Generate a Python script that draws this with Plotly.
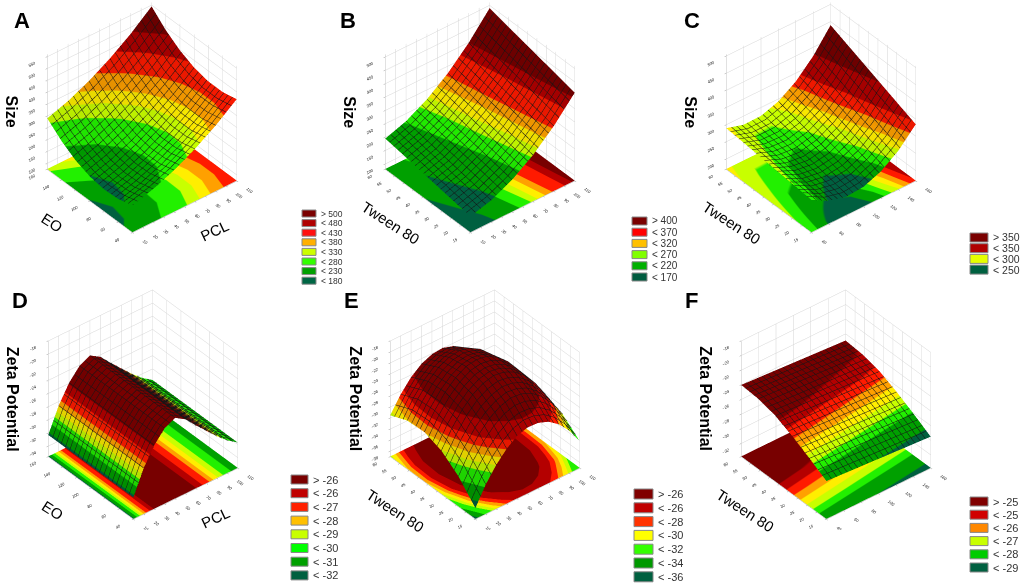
import plotly.graph_objects as go

# ---------------- data ----------------
pcl6 = [10, 30, 50, 70, 90, 110]
pcl11 = [10, 20, 30, 40, 50, 60, 70, 80, 90, 100, 110]
eo7 = [40, 60, 80, 100, 120, 140, 160]
eo3 = [40, 100, 160]
eo4 = [40, 80, 120, 160]
tween4 = [15, 30, 45, 60]
tween6 = [15, 24, 33, 42, 51, 60]

# A: Size over PCL (columns) x EO (rows)
size_a = [
    [190, 215, 251, 297, 353, 420],
    [172, 198, 234, 281, 338, 406],
    [168, 195, 232, 280, 338, 406],
    [178, 205, 243, 292, 351, 420],
    [201, 230, 269, 318, 378, 448],
    [239, 268, 308, 358, 419, 489],
    [290, 320, 361, 412, 473, 545],
]
# B: Size over PCL (columns) x Tween 80 (rows)
size_b = [
    [140, 162, 200, 254, 324, 410],
    [158, 182, 222, 277, 349, 437],
    [177, 202, 243, 301, 374, 463],
    [195, 222, 265, 324, 399, 490],
]
# C: Size over EO (columns) x Tween 80 (rows)
size_c = [
    [265, 237, 224, 228, 248, 283, 335],
    [270, 244, 235, 241, 263, 302, 356],
    [275, 252, 245, 254, 279, 320, 377],
    [280, 260, 255, 267, 295, 338, 398],
    [285, 267, 266, 280, 310, 357, 419],
    [290, 275, 276, 293, 326, 375, 440],
]
# D: Zeta potential over PCL (columns) x EO (rows)
zeta_d = [
    [-32.3, -28.6, -25.9, -24.1, -23.3, -24.3, -26.0, -27.6, -29.2, -30.6, -31.7],
    [-32.3, -28.6, -25.9, -24.1, -23.3, -24.3, -26.0, -27.6, -29.2, -30.6, -31.7],
    [-32.3, -28.6, -25.9, -24.1, -23.3, -24.3, -26.0, -27.6, -29.2, -30.6, -31.7],
]
# E: Zeta potential over PCL (columns) x Tween 80 (rows)
zeta_e = [
    [-37.0, -33.6, -31.0, -29.0, -27.6, -27.0, -27.1, -27.8, -29.2, -31.3, -34.1],
    [-33.5, -30.2, -27.6, -25.7, -24.5, -23.9, -24.1, -24.9, -26.4, -28.6, -31.5],
    [-31.1, -28.0, -25.5, -23.7, -22.6, -22.1, -22.4, -23.3, -24.9, -27.2, -30.2],
    [-30.0, -27.0, -24.6, -22.9, -21.8, -21.5, -21.8, -22.9, -24.6, -27.0, -30.0],
    [-30.2, -27.2, -24.9, -23.3, -22.4, -22.1, -22.6, -23.7, -25.5, -28.0, -31.1],
    [-31.5, -28.6, -26.4, -24.9, -24.1, -23.9, -24.5, -25.7, -27.6, -30.2, -33.5],
]
# F: Zeta potential over EO (columns) x Tween 80 (rows)
zeta_f = [
    [-28.6, -28.9, -29.2, -29.5],
    [-27.2, -27.5, -27.8, -28.1],
    [-25.9, -26.2, -26.5, -26.8],
    [-24.8, -25.1, -25.4, -25.7],
    [-24.2, -24.5, -24.8, -25.1],
    [-24.0, -24.3, -24.6, -24.9],
]

# colour band limits for the surfaces (9 colours, low -> high)
PALETTE = ["#006040", "#00a000", "#22f000", "#c8ff00", "#ffee00",
           "#ffa000", "#ff1a00", "#b40000", "#780000"]
cuts_a = [180, 230, 280, 310, 340, 380, 430, 480]
cuts_b = [170, 220, 250, 270, 295, 320, 370, 400]
cuts_c = [238, 255, 270, 285, 300, 318, 340, 380]
cuts_d = [-32, -31, -30, -29.3, -28.6, -28, -27, -26]
cuts_e = [-36, -34, -32, -31, -30, -29, -28, -26]
cuts_f = [-29, -28, -27.5, -27, -26.5, -26, -25.5, -25]

# legends as printed
leg_a = ["> 500", "< 480", "< 430", "< 380", "< 330", "< 280", "< 230", "< 180"]
legc_a = ["#7a0000", "#b00000", "#ff1010", "#ffb000", "#ccff00", "#33ff00", "#00a000", "#006644"]
leg_b = ["> 400", "< 370", "< 320", "< 270", "< 220", "< 170"]
legc_b = ["#7a0000", "#ff0000", "#ffc000", "#80ff00", "#00b000", "#005c40"]
leg_c = ["> 350", "< 350", "< 300", "< 250"]
legc_c = ["#7a0000", "#b00000", "#e6ff00", "#006040"]
leg_d = ["> -26", "< -26", "< -27", "< -28", "< -29", "< -30", "< -31", "< -32"]
legc_d = ["#7a0000", "#c00000", "#ff2000", "#ffc000", "#c8ff00", "#00ff00", "#00a000", "#006040"]
leg_e = ["> -26", "< -26", "< -28", "< -30", "< -32", "< -34", "< -36"]
legc_e = ["#800000", "#c00000", "#ff3300", "#ffff00", "#33ff00", "#009900", "#006040"]
leg_f = ["> -25", "< -25", "< -26", "< -27", "< -28", "< -29"]
legc_f = ["#800000", "#d00000", "#ff8800", "#c8ff00", "#00cc00", "#006040"]

W, H = 1024, 587


def banded(cuts, lo, hi):
    edges = [lo] + cuts + [hi]
    scale = []
    for i, col in enumerate(PALETTE):
        a = min(max((edges[i] - lo) / (hi - lo), 0), 1)
        b = min(max((edges[i + 1] - lo) / (hi - lo), 0), 1)
        scale.append([a, col])
        scale.append([b, col])
    return scale


panels = [
    dict(scene="scene", letter="A", x=pcl6, y=eo7, z=size_a, cuts=cuts_a,
         xr=[10, 110], yr=[40, 160], zr=[75, 560], xd=10, yd=20, zd=50,
         xs=5, ys=6, xt="PCL", yt="EO", zt="Size", cz=-0.05,
         dom=([0.0165, 0.261], [0.583, 1.0]), lx=302, ly=210, bw=14, bh=7, st=9.6, fs=8.5,
         leg=leg_a, legc=legc_a, lpos=(22, 20)),
    dict(scene="scene2", letter="B", x=pcl6, y=tween4, z=size_b, cuts=cuts_b,
         xr=[10, 110], yr=[15, 60], zr=[80, 510], xd=10, yd=5, zd=50,
         xs=5, ys=2.25, xt="PCL", yt="Tween 80", zt="Size", cz=-0.05,
         dom=([0.347, 0.591], [0.583, 1.0]), lx=632, ly=217, bw=15, bh=8, st=11.2, fs=10,
         leg=leg_b, legc=legc_b, lpos=(348, 20)),
    dict(scene="scene3", letter="C", x=eo7, y=tween6, z=size_c, cuts=cuts_c,
         xr=[40, 160], yr=[15, 60], zr=[170, 505], xd=20, yd=5, zd=50,
         xs=6, ys=2.25, xt="EO", yt="Tween 80", zt="Size", cz=-0.05,
         dom=([0.680, 0.924], [0.583, 1.0]), lx=970, ly=233, bw=18, bh=9, st=10.7, fs=10.5,
         leg=leg_c, legc=legc_c, lpos=(692, 20)),
    dict(scene="scene4", letter="D", x=pcl11, y=eo3, z=zeta_d, cuts=cuts_d,
         xr=[10, 110], yr=[40, 160], zr=[-35.6, -18], xd=10, yd=20, zd=2,
         xs=5, ys=6, xt="PCL", yt="EO", zt="Zeta Potential", cz=-0.03,
         dom=([0.0176, 0.262], [0.097, 0.514]), lx=291, ly=475, bw=17, bh=9, st=13.7, fs=11,
         leg=leg_d, legc=legc_d, lpos=(20, 300)),
    dict(scene="scene5", letter="E", x=pcl11, y=tween6, z=zeta_e, cuts=cuts_e,
         xr=[10, 110], yr=[15, 60], zr=[-39, -18], xd=10, yd=5, zd=2,
         xs=5, ys=2.25, xt="PCL", yt="Tween 80", zt="Zeta Potential", cz=-0.03,
         dom=([0.352, 0.596], [0.097, 0.514]), lx=634, ly=489, bw=19, bh=10, st=13.8, fs=11,
         leg=leg_e, legc=legc_e, lpos=(351, 300)),
    dict(scene="scene6", letter="F", x=eo4, y=tween6, z=zeta_f, cuts=cuts_f,
         xr=[40, 160], yr=[15, 60], zr=[-33.8, -18], xd=20, yd=5, zd=2,
         xs=6, ys=2.25, xt="EO", yt="Tween 80", zt="Zeta Potential", cz=-0.03,
         dom=([0.694, 0.938], [0.097, 0.514]), lx=970, ly=497, bw=18, bh=9, st=13.2, fs=11,
         leg=leg_f, legc=legc_f, lpos=(691, 300)),
]

fig = go.Figure()
shapes = []
annotations = []


def axis(rng, dtick):
    return dict(title=dict(text=""), range=rng, tick0=0, dtick=dtick,
                tickfont=dict(size=7, color="#222222", family="Liberation Sans", style="italic"),
                showgrid=True, gridcolor="#d4d4d4", gridwidth=1, showbackground=False,
                zeroline=False, showspikes=False, showline=True, linecolor="#b0b0b0",
                ticks="outside", ticklen=2, tickcolor="#999999")


for p in panels:
    lo, hi = p["zr"]
    scale = banded(p["cuts"], lo, hi)
    # response surface with black mesh
    fig.add_trace(go.Surface(
        x=p["x"], y=p["y"], z=p["z"], scene=p["scene"],
        colorscale=scale, cmin=lo, cmax=hi, showscale=False, hoverinfo="skip",
        lighting=dict(ambient=0.88, diffuse=0.22, specular=0.03, roughness=0.9, fresnel=0.05),
        contours=dict(
            x=dict(show=True, start=p["xr"][0], end=p["xr"][1], size=p["xs"],
                   color="#151515", width=1, highlight=False),
            y=dict(show=True, start=p["yr"][0], end=p["yr"][1], size=p["ys"],
                   color="#151515", width=1, highlight=False),
            z=dict(show=False, highlight=False),
        ),
    ))
    # filled contour map on the floor of the box
    floor = [[lo + 0.003 * (hi - lo) for _ in row] for row in p["z"]]
    fig.add_trace(go.Surface(
        x=p["x"], y=p["y"], z=floor, surfacecolor=p["z"], scene=p["scene"],
        colorscale=scale, cmin=lo, cmax=hi, showscale=False, hoverinfo="skip",
        lighting=dict(ambient=1.0, diffuse=0.0, specular=0.0, fresnel=0.0),
        contours=dict(x=dict(highlight=False), y=dict(highlight=False), z=dict(highlight=False)),
    ))

    xlo, xhi = p["xr"]
    ylo, yhi = p["yr"]
    zmid = (lo + hi) / 2
    title_font = dict(family="Liberation Sans", size=15, color="black")
    fig.update_layout(**{p["scene"]: dict(
        domain=dict(x=p["dom"][0], y=p["dom"][1]),
        xaxis=axis(p["xr"], p["xd"]),
        yaxis=axis(p["yr"], p["yd"]),
        zaxis=axis([lo, hi], p["zd"]),
        aspectmode="manual", aspectratio=dict(x=1.10, y=1.10, z=1.18),
        camera=dict(eye=dict(x=-0.955, y=-1.17, z=1.10), center=dict(x=0, y=0, z=p["cz"]),
                    projection=dict(type="orthographic")),
        annotations=[
            dict(x=xlo, y=yhi, z=zmid, text=p["zt"], showarrow=False, textangle=90,
                 xshift=-36, font=dict(family="Liberation Sans", size=16, color="black", weight="bold")),
            dict(x=xlo, y=(ylo + yhi) / 2, z=lo, text=p["yt"], showarrow=False, textangle=33,
                 xshift=-38, yshift=-22, font=title_font),
            dict(x=(xlo + xhi) / 2, y=ylo, z=lo, text=p["xt"], showarrow=False, textangle=-25,
                 xshift=30, yshift=-24, font=title_font),
        ],
    )})

    # panel letter
    lx, ly = p["lpos"]
    annotations.append(dict(x=lx / W, y=1 - ly / H, xref="paper", yref="paper", text=p["letter"],
                            showarrow=False, xanchor="center", yanchor="middle",
                            font=dict(family="Liberation Sans", size=22, color="black", weight="bold")))

    # legend boxes
    for i, (lab, col) in enumerate(zip(p["leg"], p["legc"])):
        top = p["ly"] + i * p["st"]
        shapes.append(dict(type="rect", xref="paper", yref="paper",
                           x0=p["lx"] / W, x1=(p["lx"] + p["bw"]) / W,
                           y0=1 - (top + p["bh"]) / H, y1=1 - top / H,
                           fillcolor=col, line=dict(color="#888888", width=1)))
        annotations.append(dict(x=(p["lx"] + p["bw"] + 3) / W, y=1 - (top + p["bh"] / 2) / H,
                                xref="paper", yref="paper", text=lab, showarrow=False,
                                xanchor="left", yanchor="middle",
                                font=dict(family="Liberation Sans", size=p["fs"], color="#333333")))

fig.update_layout(width=W, height=H, margin=dict(l=0, r=0, t=0, b=0),
                  paper_bgcolor="white", showlegend=False,
                  shapes=shapes, annotations=annotations)

# the page's default body margin would push the figure 8px off
fig.write_html("out.html", config={"displayModeBar": False},
               post_script="document.body.style.margin='0px';")
